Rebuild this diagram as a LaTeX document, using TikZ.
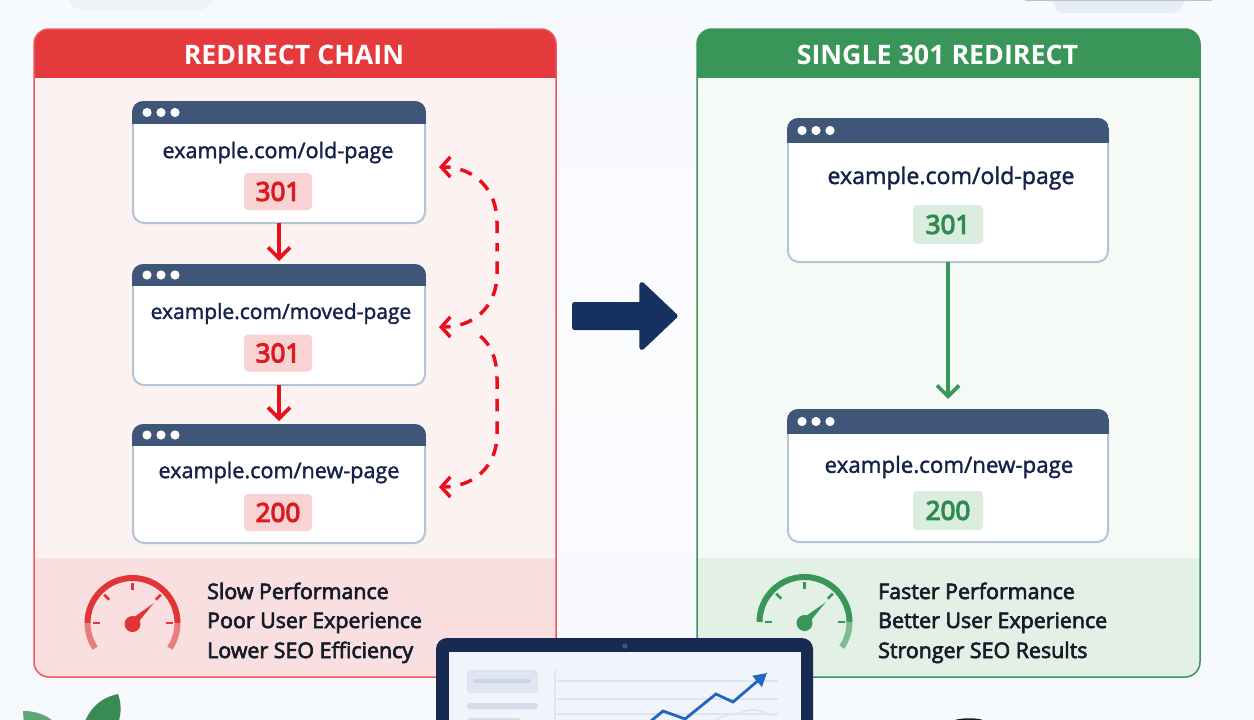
\documentclass[tikz,border=0pt]{standalone}
\usepackage{fontspec}
\setmainfont{Open Sans}
\newfontfamily\mediumfont[FakeBold=1.6]{Open Sans}
\newfontfamily\heavyfont[FakeBold=3]{Open Sans}
\newfontfamily\badgefont[FakeBold=4.5]{Open Sans}
\usetikzlibrary{arrows.meta,calc}

% Palette
\definecolor{pagebg}{HTML}{F6F9FD}
\definecolor{pagemid}{HTML}{FBFCFE}
\definecolor{redhead}{HTML}{E53A3B}
\definecolor{redline}{HTML}{E9595B}
\definecolor{redbody}{HTML}{FDF2F2}
\definecolor{redfoot}{HTML}{F9DFDF}
\definecolor{redbadge}{HTML}{F9D3D3}
\definecolor{redtext}{HTML}{DC1A20}
\definecolor{redflow}{HTML}{E8101A}
\definecolor{redgauge}{HTML}{E03436}
\definecolor{greenhead}{HTML}{3A9558}
\definecolor{greenbody}{HTML}{F5FAF7}
\definecolor{greenfoot}{HTML}{E2F0E5}
\definecolor{greenbadge}{HTML}{DBEDDF}
\definecolor{greentext}{HTML}{2F8A50}
\definecolor{greenflow}{HTML}{34985A}
\definecolor{winhead}{HTML}{3F5678}
\definecolor{winline}{HTML}{B4C3D6}
\definecolor{urlink}{HTML}{14224A}
\definecolor{footink}{HTML}{141B2A}
\definecolor{navy}{HTML}{14315F}
\definecolor{laptopbody}{HTML}{172B52}
\definecolor{screenbg}{HTML}{F1F5FB}
\definecolor{screenbar}{HTML}{C9D5E6}
\definecolor{screenbox}{HTML}{DFE6F1}
\definecolor{screengrid}{HTML}{DDE5F0}
\definecolor{chartblue}{HTML}{1F66C1}
\definecolor{leafdark}{HTML}{3A8A56}
\definecolor{leaflight}{HTML}{5DA873}

\tikzset{
  x=1pt,y=-1pt,
  winbox/.style={draw=winline,line width=2pt,fill=white,rounded corners=11pt,inner sep=0pt,outer sep=0pt},
  urltext/.style={text=urlink,inner sep=0pt,font=\mediumfont\fontsize{21.6}{24}\selectfont},
  badgebox/.style={rounded corners=4pt,inner sep=0pt,minimum height=37pt,font=\badgefont\fontsize{26}{28}\selectfont},
  redbadgebox/.style={badgebox,fill=redbadge,text=redtext,minimum width=68pt},
  greenbadgebox/.style={badgebox,fill=greenbadge,text=greentext,minimum width=70pt,minimum height=39pt},
  titletext/.style={text=white,inner sep=0pt,font=\bfseries\fontsize{26.8}{28}\selectfont},
  foottext/.style={text=footink,anchor=base west,inner sep=0pt,font=\heavyfont\fontsize{21.4}{24}\selectfont},
  flowred/.style={draw=redflow,line width=3.6pt,-{Straight Barb[length=11pt,width=22pt,line width=3.6pt]}},
  flowgreen/.style={draw=greenflow,line width=3.6pt,-{Straight Barb[length=11pt,width=22pt,line width=3.6pt]}},
  dashlink/.style={draw=redflow,line width=3.5pt,dash pattern=on 12.5pt off 10pt,dash phase=5pt},
  looptip/.tip={Straight Barb[length=9pt,width=20pt,line width=3.5pt]},
}

% A coloured panel: header strip, body, footer strip and outline
\newcommand{\statuspanel}[6]{% x1, x2, head, body, foot, outline
  \begin{scope}
    \clip[rounded corners=15pt] (#1,29) rectangle (#2,677);
    \fill[#4] (#1,78) rectangle (#2,558);
    \fill[#5] (#1,558) rectangle (#2,677);
    \fill[#3] (#1,29) rectangle (#2,78);
  \end{scope}
  \draw[#6,line width=1.5pt,rounded corners=15pt] (#1,29) rectangle (#2,677);
}

% A browser window: frame node, title bar and three dots
\newcommand{\browserwin}[6]{% name, x1, y1, x2, y2, bar bottom
  \pgfmathsetmacro{\winwide}{#4-#2-2}
  \pgfmathsetmacro{\wintall}{#5-#3-2}
  \node[winbox,minimum width=\winwide pt,minimum height=\wintall pt] (#1) at ({(#2+#4)/2},{(#3+#5)/2}) {};
  \begin{scope}
    \clip[rounded corners=11pt] (#2,#3) rectangle (#4,#5);
    \fill[winhead] (#2,#3) rectangle (#4,#6);
  \end{scope}
  \foreach \dx in {15,29,43}
    \fill[white] ({#2+\dx},{(#3+#6)/2}) circle[radius=4.6pt];
}

% Speedometer with ticks, needle and hub; #4 is the arc's far-left angle
\newcommand{\speedgauge}[4]{% cx, cy, colour, lower-left end angle
  \begin{scope}[shift={(#1,#2)},x=1pt,y=1pt]
    \draw[#3,line width=6pt] (180:45) arc[start angle=180,end angle=0,radius=45];
    \draw[#3!65!white,line width=6pt] (0:45) arc[start angle=0,end angle=-34,radius=45];
    \draw[#3!65!white,line width=6pt] (180:45) arc[start angle=180,end angle=#4,radius=45];
    \foreach \a in {0,45,90,135,180}
      \draw[#3,line width=2.8pt] (\a:33) -- (\a:40);
    \fill[#3] (132:4) -- (43:29) -- (-48:4) -- cycle;
    \fill[#3] (0,-1) circle[radius=8];
  \end{scope}
}

\begin{document}
\begin{tikzpicture}
  \path[use as bounding box,clip] (0,0) rectangle (1254,720);
  \fill[pagebg] (0,0) rectangle (1254,720);
  \shade[inner color=pagemid,outer color=pagebg] (627,360) ellipse[x radius=640,y radius=380];

  % Soft shadows of the cards cut off by the top edge
  \fill[rounded corners=6pt,fill=screengrid!35!pagebg] (61,-10) -- (220,-10) -- (205,10) -- (76,10) -- cycle;
  \fill[rounded corners=6pt,fill=screengrid!60!pagebg] (1046,-10) -- (1192,-10) -- (1178,13) -- (1058,13) -- cycle;
  \fill[winline] (1025,-4) rectangle (1212,1);

  % Leaves and the dark object at the bottom edge
  \fill[leafdark] (118,694) .. controls (100,698) and (90,708) .. (84,724) -- (118,724) .. controls (122,712) and (121,702) .. (118,694) -- cycle;
  \fill[leaflight] (23,711) .. controls (36,711) and (48,715) .. (56,724) -- (24,724) -- cycle;
  \fill[footink] (950,722) .. controls (958,717) and (980,717) .. (988,722) -- cycle;

  % Panels
  \statuspanel{34}{556}{redhead}{redbody}{redfoot}{redline}
  \statuspanel{697}{1200}{greenhead}{greenbody}{greenfoot}{greenhead}
  \node[titletext] (titleL) at (294,54.5) {REDIRECT CHAIN};
  \node[titletext] (titleR) at (937.5,54.5) {SINGLE 301 REDIRECT};

  % Redirect chain windows
  \browserwin{oldL}{132}{101}{426}{224}{124}
  \browserwin{movedL}{132}{264}{426}{386}{286}
  \browserwin{newL}{132}{424}{426}{544}{446}
  \node[urltext] (urlOldL) at (278,152.5) {example.com/old-page};
  \node[urltext,font=\mediumfont\fontsize{21}{24}\selectfont] (urlMovedL) at (281,313.5) {example.com/moved-page};
  \node[urltext] (urlNewL) at (279,472.5) {example.com/new-page};
  \node[redbadgebox] (codeOldL) at (278,191.5) {301};
  \node[redbadgebox] (codeMovedL) at (278,353) {301};
  \node[redbadgebox] (codeNewL) at (278,512.5) {200};
  \draw[flowred,shorten >=4pt] (oldL.south) -- (movedL.north);
  \draw[flowred,shorten >=4pt] (movedL.south) -- (newL.north);

  % Looping dashed links beside the chain, each drawn outward from its arrow tip
  \coordinate (loopOld) at (439,167);
  \coordinate (loopMoved) at (439,327);
  \coordinate (loopSplit) at (476,333);
  \coordinate (loopNew) at (439,487);
  \coordinate (loopUpper) at (497,250);
  \draw[dashlink,looptip-]
    (loopOld) .. controls (475,167) and (497,190) .. (497,222) -- (loopUpper);
  \draw[dashlink,looptip-]
    (loopMoved) .. controls (480,327) and (497,300) .. (497,275) -- (loopUpper);
  \draw[dashlink,looptip-]
    (loopNew) .. controls (475,487) and (497,465) .. (497,435) -- (497,378)
    .. controls (497,358) and (490,342) .. (loopSplit);

  % Single redirect windows
  \browserwin{oldR}{787}{118}{1109}{263}{143}
  \browserwin{newR}{787}{409}{1109}{543}{434}
  \node[urltext,font=\mediumfont\fontsize{23.1}{25}\selectfont] (urlOldR) at (951,178) {example.com/old-page};
  \node[urltext,font=\mediumfont\fontsize{22.3}{25}\selectfont] (urlNewR) at (949,467) {example.com/new-page};
  \node[greenbadgebox] (codeOldR) at (948,224.5) {301};
  \node[greenbadgebox] (codeNewR) at (948,510.5) {200};
  \draw[flowgreen,shorten >=11pt] (oldR.south) -- (newR.north);

  % Transition arrow between the panels, rounded by its round-joined outline
  \fill[navy,draw=navy,line width=5pt,line join=round]
    (574.5,304.5) -- (641.8,304.5) -- (641.8,284.5) -- (675,316) -- (641.8,347.5) -- (641.8,327.5) -- (574.5,327.5) -- cycle;

  % Gauges and summaries
  \speedgauge{132.5}{623}{redgauge}{214}
  \speedgauge{804.5}{622}{greenhead}{180}
  \node[foottext] (slowA) at (207,599) {Slow Performance};
  \node[foottext] (slowB) at (207,628) {Poor User Experience};
  \node[foottext] (slowC) at (207,658) {Lower SEO Efficiency};
  \node[foottext] (fastA) at (878,599) {Faster Performance};
  \node[foottext] (fastB) at (878,628) {Better User Experience};
  \node[foottext] (fastC) at (878,658) {Stronger SEO Results};

  % Laptop with a small dashboard on screen
  \fill[laptopbody,rounded corners=11pt] (436,638) rectangle (813,760);
  \fill[screenbg] (449,652) rectangle (801,740);
  \fill[winhead] (625,646) circle[radius=2.6pt];
  \fill[screenbox,rounded corners=3pt] (467,670) rectangle (538,693);
  \fill[screenbar,rounded corners=1.5pt] (473,679) rectangle (531,683);
  \fill[screenbar!80!white,rounded corners=3pt] (467,703) rectangle (538,709);
  \fill[screenbar!80!white,rounded corners=3pt] (467,718) rectangle (521,726);
  \draw[screengrid,line width=1.2pt] (555,670) -- (555,725);
  \draw[screengrid,line width=1.2pt] (557,681) -- (778,681);
  \draw[screengrid,line width=1.2pt] (557,699) -- (778,699);
  \draw[screengrid,line width=1.2pt] (557,714) -- (778,714);
  \draw[screengrid,line width=1.6pt] (715,721) .. controls (725,712) and (735,716) .. (745,711) .. controls (755,708) and (765,712) .. (772,716);
  \draw[chartblue,line width=2.8pt,-{Triangle[length=13pt,width=14pt]}]
    (645,726) -- (663,711) -- (685,719) -- (716,694) -- (733,702) -- (767,673);
\end{tikzpicture}
\end{document}
